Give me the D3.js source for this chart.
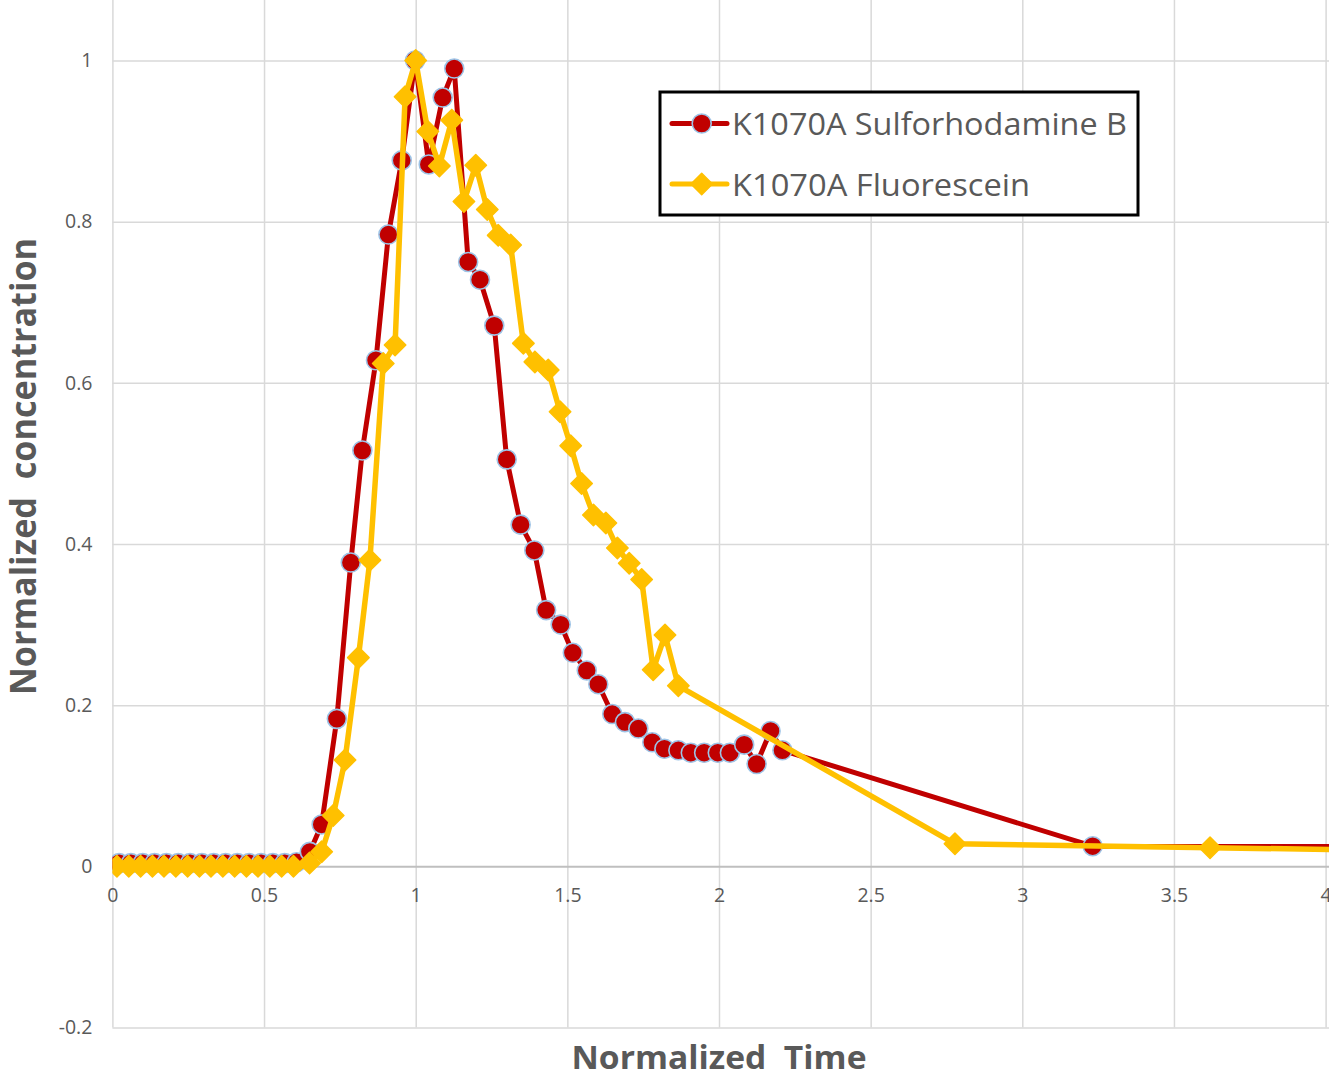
<!DOCTYPE html>
<html>
<head>
<meta charset="utf-8">
<script src="https://cdn.jsdelivr.net/npm/d3@7"></script>
<style>
  body { margin: 0; overflow: hidden; background: #fff; }
  svg { display: block; }
</style>
</head>
<body>
<svg id="chart" width="1329" height="1079"></svg>
<script>
// Series names
let seriesNames = ["K1070A Sulforhodamine B", "K1070A Fluorescein"];

// Sulforhodamine B, normalized time
let redTime = [0.022, 0.061, 0.100, 0.139, 0.178, 0.217, 0.256, 0.295, 0.334, 0.373, 0.412, 0.451, 0.490, 0.529, 0.568, 0.607,
  0.651, 0.690, 0.740, 0.786, 0.824, 0.869, 0.910, 0.954, 0.998, 1.043, 1.089, 1.127, 1.173, 1.212, 1.259, 1.300,
  1.346, 1.391, 1.430, 1.478, 1.518, 1.564, 1.602, 1.648, 1.690, 1.734, 1.780, 1.820, 1.866, 1.907, 1.951, 1.996,
  2.036, 2.083, 2.124, 2.170, 2.209, 3.232, 5.0];

// Sulforhodamine B, normalized concentration
let redConc = [0.004, 0.004, 0.004, 0.004, 0.004, 0.004, 0.004, 0.004, 0.004, 0.004, 0.004, 0.004, 0.004, 0.004, 0.004, 0.005,
  0.018, 0.052, 0.183, 0.377, 0.516, 0.628, 0.784, 0.876, 1.0, 0.871, 0.954, 0.990, 0.750, 0.728, 0.671, 0.505,
  0.424, 0.392, 0.318, 0.300, 0.265, 0.243, 0.226, 0.189, 0.179, 0.171, 0.154, 0.146, 0.144, 0.141, 0.141, 0.141,
  0.141, 0.151, 0.127, 0.168, 0.144, 0.025, 0.024];

// Fluorescein, normalized time
let yellowTime = [0.015, 0.054, 0.093, 0.132, 0.170, 0.209, 0.248, 0.287, 0.325, 0.364, 0.403, 0.442, 0.480, 0.519, 0.558, 0.597,
  0.650, 0.690, 0.728, 0.767, 0.811, 0.849, 0.893, 0.932, 0.965, 1.000, 1.040, 1.078, 1.119, 1.159, 1.198, 1.236,
  1.272, 1.313, 1.355, 1.393, 1.437, 1.476, 1.511, 1.547, 1.586, 1.627, 1.665, 1.704, 1.745, 1.783, 1.822, 1.866,
  2.778, 3.619, 4.6];

// Fluorescein, normalized concentration
let yellowConc = [0.0, 0.0, 0.0, 0.0, 0.0, 0.0, 0.0, 0.0, 0.0, 0.0, 0.0, 0.0, 0.0, 0.0, 0.0, 0.0,
  0.004, 0.018, 0.063, 0.132, 0.259, 0.380, 0.624, 0.647, 0.955, 1.0, 0.912, 0.869, 0.926, 0.825, 0.870, 0.815,
  0.783, 0.771, 0.649, 0.626, 0.616, 0.564, 0.522, 0.475, 0.436, 0.426, 0.395, 0.376, 0.356, 0.244, 0.287, 0.224,
  0.028, 0.023, 0.018];

// Tick labels
let xTicks = [0, 0.5, 1, 1.5, 2, 2.5, 3, 3.5, 4];
let yTicks = [-0.2, 0, 0.2, 0.4, 0.6, 0.8, 1];

// Colours
let red = "#C00000", yellow = "#FFC000", gridColor = "#d9d9d9", textColor = "#595959";

let svg = d3.select("#chart");
let width = 1329, height = 1079;

// Scales
let x = d3.scaleLinear().domain([0, 4]).range([112.4, 1325.6]);
let y = d3.scaleLinear().domain([-0.2, 1]).range([1027.5, 60.5]);

// Vertical gridlines (run up to the top of the picture)
svg.append("g")
  .attr("transform", "translate(0," + y(-0.2) + ")")
  .call(d3.axisBottom(x).tickValues(xTicks).tickSize(-y(-0.2)).tickFormat(""))
  .call(g => g.select(".domain").remove())
  .call(g => g.selectAll("line").attr("stroke", gridColor).attr("stroke-width", 1.5));

// Horizontal gridlines
svg.append("g")
  .attr("transform", "translate(" + x(0) + ",0)")
  .call(d3.axisLeft(y).tickValues(yTicks).tickSize(-(width - x(0))).tickFormat(""))
  .call(g => g.select(".domain").remove())
  .call(g => g.selectAll("line")
    .attr("stroke", d => d === 0 ? "#bfbfbf" : gridColor)
    .attr("stroke-width", d => d === 0 ? 2 : 1.5));

// Y tick labels
svg.append("g")
  .attr("transform", "translate(" + x(0) + ",0)")
  .call(d3.axisLeft(y).tickValues(yTicks).tickSize(0).tickPadding(20)
    .tickFormat(d => String(+d.toFixed(1))))
  .call(g => g.select(".domain").remove())
  .call(g => g.selectAll("text")
    .attr("fill", textColor)
    .style("font-family", "'Open Sans', sans-serif")
    .style("font-size", "19.5px"));

// X tick labels, placed just under the zero line
svg.append("g")
  .attr("transform", "translate(0," + y(0) + ")")
  .call(d3.axisBottom(x).tickValues(xTicks).tickSize(0).tickPadding(22)
    .tickFormat(d => String(d)))
  .call(g => g.select(".domain").remove())
  .call(g => g.selectAll("text")
    .attr("fill", textColor)
    .style("font-family", "'Open Sans', sans-serif")
    .style("font-size", "19.5px"));

// Clip so the lines stop at the plot edges
svg.append("clipPath").attr("id", "plotClip")
  .append("rect")
  .attr("x", x(0)).attr("y", 0)
  .attr("width", width - x(0)).attr("height", y(-0.2));

let lineGen = d3.line().x(d => x(d[0])).y(d => y(d[1]));

let redData = redTime.map((t, i) => [t, redConc[i]]);
let yellowData = yellowTime.map((t, i) => [t, yellowConc[i]]);

let plot = svg.append("g").attr("clip-path", "url(#plotClip)");

// Sulforhodamine B line and circles
plot.append("path")
  .datum(redData)
  .attr("d", lineGen)
  .attr("fill", "none")
  .attr("stroke", red)
  .attr("stroke-width", 5)
  .attr("stroke-linejoin", "round");

plot.selectAll(".redDot")
  .data(redData)
  .enter()
  .append("circle")
  .attr("class", "redDot")
  .attr("cx", d => x(d[0]))
  .attr("cy", d => y(d[1]))
  .attr("r", 9.5)
  .attr("fill", red)
  .attr("stroke", "#9DC3E6")
  .attr("stroke-width", 1.6);

// Fluorescein line and diamonds
plot.append("path")
  .datum(yellowData)
  .attr("d", lineGen)
  .attr("fill", "none")
  .attr("stroke", yellow)
  .attr("stroke-width", 5.5)
  .attr("stroke-linejoin", "round");

let diamond = d3.symbol().type(d3.symbolSquare).size(230);

plot.selectAll(".yellowDiamond")
  .data(yellowData)
  .enter()
  .append("path")
  .attr("class", "yellowDiamond")
  .attr("d", diamond)
  .attr("transform", d => "translate(" + x(d[0]) + "," + y(d[1]) + ") rotate(45)")
  .attr("fill", yellow)
  .attr("stroke", yellow)
  .attr("stroke-width", 1.5)
  .attr("stroke-linejoin", "round");

// X axis title
svg.append("text")
  .attr("x", 719)
  .attr("y", 1069)
  .attr("text-anchor", "middle")
  .attr("fill", textColor)
  .attr("textLength", 295)
  .attr("lengthAdjust", "spacingAndGlyphs")
  .style("font-family", "'Open Sans', sans-serif")
  .style("font-weight", "bold")
  .style("font-size", "32px")
  .style("white-space", "pre")
  .text("Normalized  Time");

// Y axis title
svg.append("text")
  .attr("transform", "translate(36,466.5) rotate(-90)")
  .attr("text-anchor", "middle")
  .attr("fill", textColor)
  .attr("textLength", 457)
  .attr("lengthAdjust", "spacingAndGlyphs")
  .style("font-family", "'Open Sans', sans-serif")
  .style("font-weight", "bold")
  .style("font-size", "35px")
  .style("white-space", "pre")
  .text("Normalized  concentration");

// Legend box
svg.append("rect")
  .attr("x", 660)
  .attr("y", 92)
  .attr("width", 478)
  .attr("height", 123)
  .attr("fill", "white")
  .attr("stroke", "black")
  .attr("stroke-width", 3);

let legendRows = [
  { name: seriesNames[0], color: red, y: 123.5, len: 395, marker: "circle" },
  { name: seriesNames[1], color: yellow, y: 184, len: 298, marker: "diamond" }
];

legendRows.forEach(row => {
  // sample line
  svg.append("line")
    .attr("x1", 672).attr("x2", 727)
    .attr("y1", row.y).attr("y2", row.y)
    .attr("stroke", row.color)
    .attr("stroke-width", 5)
    .attr("stroke-linecap", "round");

  // sample marker
  if (row.marker === "circle") {
    svg.append("circle")
      .attr("cx", 701.7).attr("cy", row.y)
      .attr("r", 9.5)
      .attr("fill", row.color)
      .attr("stroke", "#9DC3E6")
      .attr("stroke-width", 1.6);
  } else {
    svg.append("path")
      .attr("d", diamond)
      .attr("transform", "translate(701.7," + row.y + ") rotate(45)")
      .attr("fill", row.color)
      .attr("stroke", row.color)
      .attr("stroke-width", 1.5)
      .attr("stroke-linejoin", "round");
  }

  // label
  svg.append("text")
    .attr("x", 732)
    .attr("y", row.y + 11.5)
    .attr("fill", textColor)
    .attr("textLength", row.len)
    .attr("lengthAdjust", "spacingAndGlyphs")
    .style("font-family", "'Open Sans', sans-serif")
    .style("font-size", "31px")
    .text(row.name);
});
</script>
</body>
</html>
